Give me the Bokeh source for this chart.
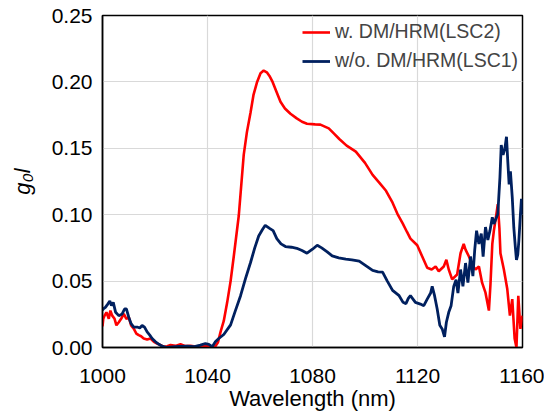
from bokeh.plotting import figure
from bokeh.models import Range1d, FixedTicker, Legend, LegendItem, PrintfTickFormatter
from bokeh.embed import file_html
from bokeh.resources import INLINE

# ---- data ----
wl_lsc2 = [1000.0, 1000.3, 1000.8, 1001.5, 1002.4, 1003.0, 1003.7, 1004.6, 1005.3, 1006.2,
           1007.1, 1008.1, 1009.1, 1010.0, 1010.9, 1011.9, 1012.9, 1013.8, 1014.7, 1015.7,
           1017.0, 1018.3, 1019.6, 1020.8, 1022.1, 1023.4, 1024.6, 1025.9, 1027.8, 1029.7,
           1031.6, 1033.5, 1036.1, 1038.6, 1041.1, 1043.0, 1044.0, 1045.0, 1046.2, 1047.5,
           1048.8, 1050.0, 1051.9, 1053.8, 1055.0, 1056.4, 1057.5, 1058.9, 1060.2, 1061.4,
           1062.6, 1063.6, 1064.8, 1066.2, 1067.8, 1069.5, 1071.6, 1074.0, 1076.0, 1077.9,
           1081.0, 1083.0, 1086.2, 1088.2, 1090.2, 1093.0, 1096.5, 1100.0, 1102.9, 1105.5,
           1108.0, 1110.5, 1112.5, 1114.3, 1116.0, 1117.3, 1119.9, 1121.8, 1123.7, 1125.4,
           1126.9, 1128.1, 1130.0, 1131.0, 1131.9, 1133.2, 1135.1, 1136.4, 1137.6, 1138.3,
           1139.6, 1140.8, 1142.1, 1143.4, 1144.6, 1145.9, 1147.2, 1147.8, 1148.5, 1149.1,
           1149.7, 1150.6, 1151.2, 1151.6, 1152.9, 1154.2, 1155.2, 1156.1, 1157.0, 1157.7,
           1158.4, 1159.2, 1160.0]
g_lsc2 = [0.016, 0.0216, 0.024, 0.0265, 0.0216, 0.0278, 0.024, 0.0216, 0.0167, 0.019,
          0.0216, 0.0253, 0.0216, 0.0228, 0.0167, 0.0142, 0.0105, 0.0093, 0.0085, 0.0068,
          0.006, 0.0068, 0.0043, 0.003, 0.0018, 0.0006, 0.001, 0.0018, 0.0012, 0.0024,
          0.001, 0.0012, 0.0005, 0.0012, 0.0005, 0.001, 0.004, 0.012, 0.02, 0.034,
          0.05, 0.0685, 0.099, 0.145, 0.162, 0.177, 0.19, 0.2, 0.2065, 0.2085,
          0.2072, 0.2045, 0.2, 0.193, 0.185, 0.18, 0.176, 0.1725, 0.170, 0.1685,
          0.168, 0.1678, 0.165, 0.161, 0.157, 0.152, 0.1475, 0.139, 0.130, 0.124,
          0.118, 0.109, 0.1, 0.0937, 0.087, 0.082, 0.077, 0.0685, 0.06, 0.0587,
          0.061, 0.0574, 0.061, 0.066, 0.0587, 0.0513, 0.055, 0.071, 0.078, 0.0737,
          0.0685, 0.0624, 0.0587, 0.061, 0.0488, 0.0413, 0.0278, 0.0476, 0.078, 0.088,
          0.0957, 0.108, 0.09, 0.071, 0.0587, 0.044, 0.024, 0.0364, 0.0068, 0.0,
          0.039, 0.014, 0.024]

wl_lsc1 = [1000.0, 1000.3, 1001.1, 1002.0, 1002.8, 1003.4, 1004.1, 1005.0, 1006.2, 1007.5,
           1008.4, 1009.1, 1010.0, 1010.9, 1011.9, 1013.2, 1014.2, 1015.1, 1016.0, 1017.0,
           1018.0, 1018.9, 1020.2, 1021.5, 1022.7, 1024.6, 1026.5, 1029.0, 1032.3, 1035.0,
           1037.3, 1039.2, 1040.5, 1041.8, 1043.0, 1044.3, 1046.2, 1048.8, 1050.5, 1052.6,
           1054.5, 1056.4, 1058.0, 1059.5, 1061.0, 1062.0, 1063.8, 1065.0, 1066.4, 1068.0,
           1069.7, 1072.0, 1074.0, 1076.0, 1077.9, 1080.0, 1081.8, 1083.5, 1085.6, 1087.5,
           1090.0, 1092.7, 1095.0, 1097.8, 1100.0, 1102.9, 1105.0, 1106.7, 1108.5, 1110.5,
           1113.0, 1114.5, 1115.6, 1116.5, 1117.3, 1119.2, 1121.1, 1122.4, 1123.7, 1125.0,
           1125.6, 1126.5, 1127.5, 1128.5, 1129.4, 1130.3, 1131.0, 1131.9, 1132.8, 1133.8,
           1134.7, 1135.4, 1136.4, 1137.3, 1138.3, 1139.2, 1140.2, 1141.1, 1141.8, 1142.5,
           1143.4, 1144.3, 1145.0, 1145.9, 1146.8, 1147.6, 1148.5, 1149.1, 1150.6, 1151.4,
           1151.9, 1152.6, 1153.3, 1153.9, 1154.4, 1154.9, 1155.4, 1156.1, 1156.7, 1157.3,
           1157.7, 1158.2, 1158.6, 1159.2, 1159.6, 1160.0]
g_lsc1 = [0.028, 0.029, 0.0302, 0.0327, 0.035, 0.0315, 0.034, 0.0265, 0.024, 0.0253,
          0.029, 0.029, 0.0228, 0.0179, 0.0154, 0.0154, 0.0147, 0.0167, 0.0154, 0.0117,
          0.0093, 0.0068, 0.0043, 0.0024, 0.001, 0.0, 0.0005, 0.0008, 0.001, 0.0006,
          0.0018, 0.003, 0.0024, 0.0006, 0.0043, 0.0068, 0.0098, 0.017, 0.027, 0.039,
          0.052, 0.064, 0.075, 0.084, 0.089, 0.092, 0.0895, 0.088, 0.082, 0.078,
          0.076, 0.0755, 0.0747, 0.073, 0.071, 0.074, 0.077, 0.075, 0.072, 0.069,
          0.0675, 0.0665, 0.066, 0.065, 0.062, 0.058, 0.057, 0.0567, 0.05, 0.043,
          0.039, 0.034, 0.033, 0.037, 0.039, 0.034, 0.0327, 0.0315, 0.0364, 0.041,
          0.046, 0.039, 0.029, 0.0167, 0.014, 0.008, 0.019, 0.0265, 0.0315, 0.046,
          0.051, 0.041, 0.0587, 0.046, 0.0636, 0.0488, 0.0685, 0.0537, 0.0735, 0.088,
          0.078, 0.0858, 0.0685, 0.0907, 0.081, 0.088, 0.098, 0.093, 0.1006, 0.128,
          0.1525, 0.145, 0.15, 0.1587, 0.140, 0.1228, 0.1327, 0.113, 0.09, 0.075,
          0.066, 0.07, 0.08, 0.1, 0.112, 0.1]

x_ticks = [1000, 1040, 1080, 1120, 1160]
y_ticks = [0.00, 0.05, 0.10, 0.15, 0.20, 0.25]
x_grid = [1040, 1080, 1120]
y_grid = [0.05, 0.10, 0.15, 0.20]
label_lsc2 = "w. DM/HRM(LSC2)"
label_lsc1 = "w/o. DM/HRM(LSC1)"

FONT = "Liberation Sans"

p = figure(width=544, height=413, output_backend="svg", toolbar_location=None,
           x_range=Range1d(1000, 1160), y_range=Range1d(0, 0.25),
           min_border_left=102, min_border_right=22, min_border_top=15, min_border_bottom=40)

p.background_fill_color = "white"
p.border_fill_color = "white"
p.outline_line_color = "black"
p.outline_line_width = 1.5

r2 = p.line(wl_lsc2, g_lsc2, line_color="#ff0000", line_width=2.6)
r1 = p.line(wl_lsc1, g_lsc1, line_color="#00205f", line_width=2.8)

for ax in (p.xaxis[0], p.yaxis[0]):
    ax.major_tick_line_color = None
    ax.minor_tick_line_color = None
    ax.axis_line_color = "black"
    ax.axis_line_width = 1.5
    ax.major_label_text_font = FONT
    ax.major_label_text_font_size = "21px"
    ax.major_label_text_color = "black"
    ax.axis_label_text_font = FONT
    ax.axis_label_text_font_size = "22px"
    ax.axis_label_text_color = "black"
    ax.axis_label_text_font_style = "normal"

p.xaxis[0].ticker = FixedTicker(ticks=x_ticks)
p.yaxis[0].ticker = FixedTicker(ticks=y_ticks)
p.yaxis[0].formatter = PrintfTickFormatter(format="%.2f")
p.xaxis[0].major_label_standoff = 15
p.yaxis[0].major_label_standoff = 4
p.xaxis[0].axis_label = "Wavelength (nm)"
p.xaxis[0].axis_label_standoff = 0
p.yaxis[0].axis_label = "g\u2080l"
p.yaxis[0].axis_label_text_font_style = "italic"
p.yaxis[0].axis_label_standoff = 14

p.xgrid[0].ticker = FixedTicker(ticks=x_grid)
p.ygrid[0].ticker = FixedTicker(ticks=y_grid)
for g in (p.xgrid[0], p.ygrid[0]):
    g.grid_line_color = "#d9d9d9"
    g.grid_line_width = 1.2

legend = Legend(items=[LegendItem(label=label_lsc2, renderers=[r2]),
                       LegendItem(label=label_lsc1, renderers=[r1])],
                location=(200, 275), margin=0, padding=5, spacing=6,
                glyph_width=28, label_standoff=5,
                label_text_font=FONT, label_text_font_size="19.5px",
                border_line_color=None, background_fill_alpha=0.0)
p.add_layout(legend)

open("out.html", "w").write(file_html(p, INLINE))
